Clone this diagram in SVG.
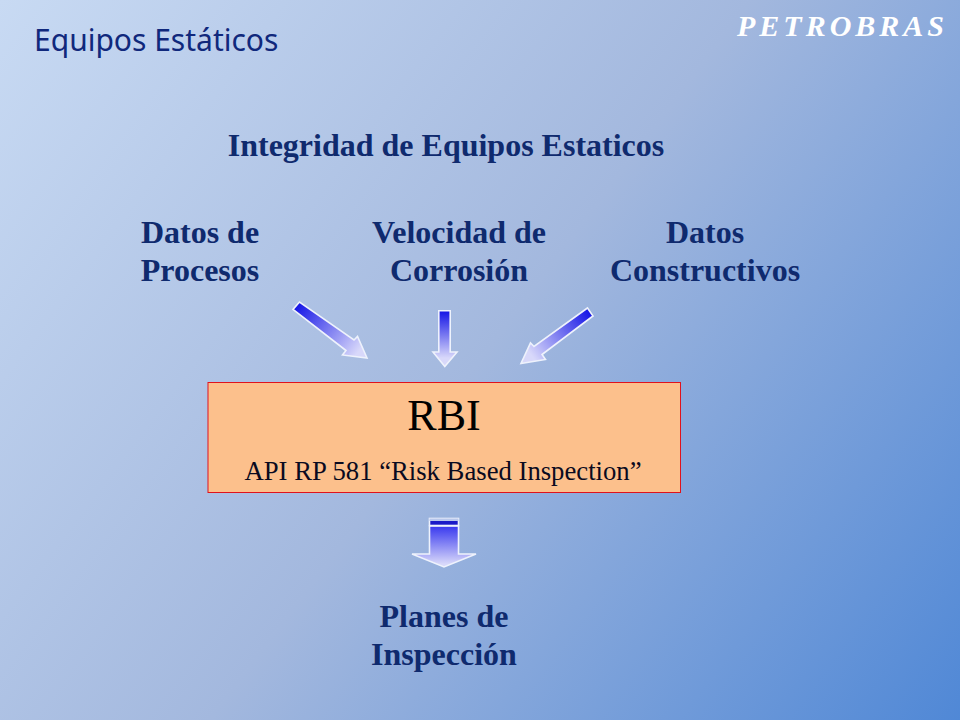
<svg xmlns="http://www.w3.org/2000/svg" width="960" height="720" viewBox="0 0 960 720">
<defs>
<linearGradient id="bg" gradientUnits="userSpaceOnUse" x1="0" y1="0" x2="960" y2="720">
<stop offset="0" stop-color="#c8daf3"/><stop offset="0.5" stop-color="#a3b8de"/><stop offset="1" stop-color="#5088d6"/>
</linearGradient>
<linearGradient id="a1" gradientUnits="userSpaceOnUse" x1="296" y1="305" x2="358" y2="352"><stop offset="0" stop-color="#1414e6"/><stop offset="1" stop-color="#d8d8fa"/></linearGradient>
<linearGradient id="a2" gradientUnits="userSpaceOnUse" x1="444" y1="311" x2="444" y2="358"><stop offset="0" stop-color="#1414e6"/><stop offset="1" stop-color="#d8d8fa"/></linearGradient>
<linearGradient id="a3" gradientUnits="userSpaceOnUse" x1="590" y1="312" x2="532" y2="356"><stop offset="0" stop-color="#1414e6"/><stop offset="1" stop-color="#d8d8fa"/></linearGradient>
<linearGradient id="a4" gradientUnits="userSpaceOnUse" x1="444" y1="524" x2="444" y2="564"><stop offset="0" stop-color="#3030ee"/><stop offset="1" stop-color="#d8d8fa"/></linearGradient>
</defs>
<style>
.h{font-family:"Liberation Serif",serif;font-weight:bold;font-size:32px;fill:#0f2a6e;text-anchor:middle}
.ar{stroke:#eef2fc;stroke-width:1.6;stroke-linejoin:miter}
</style>
<rect width="960" height="720" fill="url(#bg)"/>
<text id="header" x="34" y="51" style="font-family:'Noto Sans',sans-serif;font-size:30px;fill:#10287c">Equipos Estáticos</text>
<text id="brand" x="737" y="36" style="font-family:'Liberation Serif',serif;font-weight:bold;font-style:italic;font-size:30px;letter-spacing:4px;fill:#fff">PETROBRAS</text>
<g id="title"><text class="h" x="446" y="156">Integridad de Equipos Estaticos</text></g>
<g id="datos-procesos"><text class="h" x="200" y="243">Datos de</text><text class="h" x="200" y="281">Procesos</text></g>
<g id="velocidad"><text class="h" x="459" y="243">Velocidad de</text><text class="h" x="459" y="281">Corrosión</text></g>
<g id="datos-constructivos"><text class="h" x="705" y="243">Datos</text><text class="h" x="705" y="281">Constructivos</text></g>
<g id="rbi">
<rect x="208" y="382.500" width="472.500" height="110" fill="#fcc08c" stroke="#e0121c" stroke-width="1"/>
<text x="444" y="430" style="font-family:'Liberation Serif',serif;font-size:44px;fill:#000;text-anchor:middle">RBI</text>
<text x="443" y="480" style="font-family:'Liberation Serif',serif;font-size:26.700px;fill:#0a0a20;text-anchor:middle">API RP 581 “Risk Based Inspection”</text>
</g>
<g id="planes"><text class="h" x="444" y="627">Planes de</text><text class="h" x="444" y="665">Inspección</text></g>
<g id="connectors">
<polygon class="ar" fill="url(#a1)" points="299.500,302 293,309.500 346,350.500 342.500,355 367,358 357.500,336.500 354,340"/>
<polygon class="ar" fill="url(#a2)" points="438.800,310.800 450.200,310.800 450.200,352 457,352 444.800,366.500 433,352 438.800,352"/>
<polygon class="ar" fill="url(#a3)" points="587.500,308 593,316 542,354.500 545.500,359.500 521,363.500 530.500,343 534,346.500"/>
<polygon class="ar" fill="url(#a4)" points="429.500,526 458.500,526 458.500,554 476,554 444,567 412,554 429.500,554"/>
<rect x="429.500" y="518.500" width="29" height="7" fill="#1a1ac8" class="ar" stroke-width="1.2"/>
<rect x="429.500" y="518.500" width="29" height="2.500" fill="#b9c8ec"/>
</g>
</svg>
